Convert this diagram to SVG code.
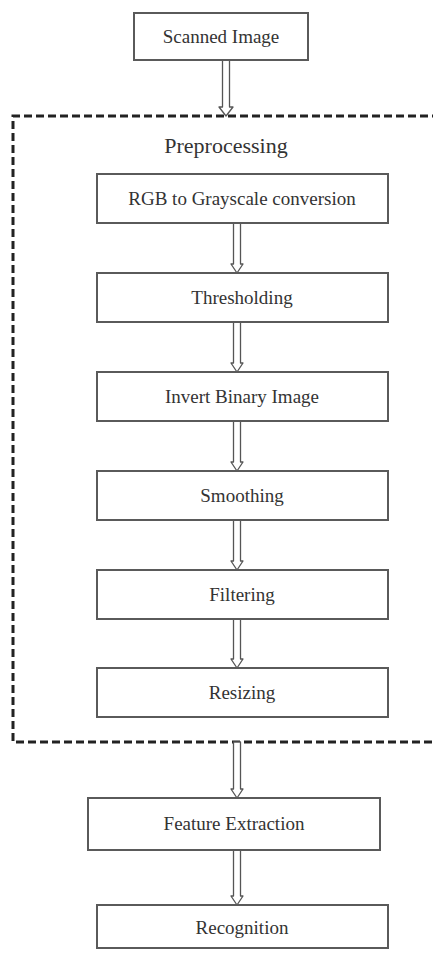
<svg xmlns="http://www.w3.org/2000/svg" width="433" height="953" viewBox="0 0 433 953">
<style>
.box{fill:#fff;stroke:#5a5a5a;stroke-width:2}
.lbl{font-size:19px;fill:#333;text-anchor:middle}
.arr{fill:#fff;stroke:#555;stroke-width:1.3;stroke-linejoin:round}
.dash{fill:none;stroke:#222;stroke-width:3;stroke-dasharray:8 4}
</style>
<rect width="433" height="953" fill="#fff"/>
<g font-family="Liberation Serif, Times New Roman, DejaVu Serif, serif">
<g id="preprocessing">
<path class="dash" d="M440 116 H13 V742 H440"/>
<text class="lbl" x="226" y="153" style="font-size:22px">Preprocessing</text>
</g>
<g id="connectors">
<path class="arr" d="M222.5 60 V107 H219 L226 116 L233 107 H229.5 V60 Z"/>
<path class="arr" d="M233.5 223 V264 H231 L237 273 L243 264 H240.5 V223 Z"/>
<path class="arr" d="M233.5 322 V363 H231 L237 372 L243 363 H240.5 V322 Z"/>
<path class="arr" d="M233.5 421 V462 H231 L237 471 L243 462 H240.5 V421 Z"/>
<path class="arr" d="M233.5 520 V561 H231 L237 570 L243 561 H240.5 V520 Z"/>
<path class="arr" d="M233.5 619 V659 H231 L237 668 L243 659 H240.5 V619 Z"/>
<path class="arr" d="M233.5 742 V789 H231 L237 798 L243 789 H240.5 V742 Z"/>
<path class="arr" d="M233.5 850 V896 H231 L237 905 L243 896 H240.5 V850 Z"/>
</g>
<g id="scanned-image">
<rect class="box" x="134" y="13" width="174" height="47"/>
<text class="lbl" x="221" y="43">Scanned Image</text>
</g>
<g id="rgb-to-grayscale">
<rect class="box" x="97" y="174" width="291" height="49"/>
<text class="lbl" x="242" y="205">RGB to Grayscale conversion</text>
</g>
<g id="thresholding">
<rect class="box" x="97" y="273" width="291" height="49"/>
<text class="lbl" x="242" y="304">Thresholding</text>
</g>
<g id="invert-binary-image">
<rect class="box" x="97" y="372" width="291" height="49"/>
<text class="lbl" x="242" y="403">Invert Binary Image</text>
</g>
<g id="smoothing">
<rect class="box" x="97" y="471" width="291" height="49"/>
<text class="lbl" x="242" y="502">Smoothing</text>
</g>
<g id="filtering">
<rect class="box" x="97" y="570" width="291" height="49"/>
<text class="lbl" x="242" y="601">Filtering</text>
</g>
<g id="resizing">
<rect class="box" x="97" y="668" width="291" height="49"/>
<text class="lbl" x="242" y="699">Resizing</text>
</g>
<g id="feature-extraction">
<rect class="box" x="88" y="798" width="292" height="52"/>
<text class="lbl" x="234" y="830">Feature Extraction</text>
</g>
<g id="recognition">
<rect class="box" x="97" y="905" width="291" height="43"/>
<text class="lbl" x="242" y="934">Recognition</text>
</g>
</g>
</svg>
